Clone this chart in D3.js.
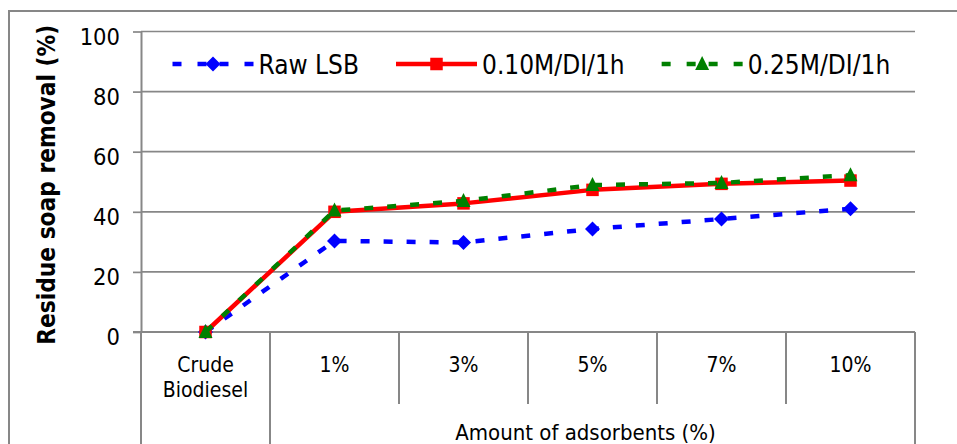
<!DOCTYPE html>
<html>
<head>
<meta charset="utf-8">
<script src="https://cdn.jsdelivr.net/npm/d3@7/dist/d3.min.js"></script>
<style>
  html, body { margin: 0; padding: 0; background: #fff; }
  svg { display: block; }
  text { font-family: "DejaVu Sans Condensed", "DejaVu Sans", sans-serif; font-stretch: condensed; fill: #000; }
</style>
</head>
<body>
<svg id="chart" width="957" height="444"></svg>
<script>
// Category axis: first category stands alone, the rest share a group label
const categories = ["Crude Biodiesel", "1%", "3%", "5%", "7%", "10%"];
const categoryLines = [["Crude", "Biodiesel"], ["1%"], ["3%"], ["5%"], ["7%"], ["10%"]];
const groupLabel = "Amount of adsorbents (%)";
const groupMembers = ["1%", "3%", "5%", "7%", "10%"];

// Residue soap removal (%) per series
const rawLSB  = [0, 30.3, 29.8, 34.3, 37.6, 41.0];
const m010DI1h = [0, 40.0, 42.8, 47.3, 49.3, 50.4];
const m025DI1h = [0, 40.4, 43.6, 48.9, 49.6, 52.2];

const seriesNames = ["Raw LSB", "0.10M/DI/1h", "0.25M/DI/1h"];
const yTicks = [0, 20, 40, 60, 80, 100];
const yTitle = "Residue soap removal (%)";

const series = [
  { name: seriesNames[0], values: rawLSB,  color: "#0000ff", dash: "9,14", marker: "diamond" },
  { name: seriesNames[1], values: m010DI1h, color: "#ff0000", dash: null,   marker: "square" },
  { name: seriesNames[2], values: m025DI1h, color: "#008000", dash: "9,14", marker: "triangle" }
];

const svg = d3.select("#chart");
const gridColor = "#878787";

// plot frame
const plotL = 141, plotR = 915, plotT = 31.5, plotB = 332;

// outer chart border (runs past the right and bottom edges)
svg.append("rect")
  .attr("x", 9).attr("y", 11)
  .attr("width", 1000).attr("height", 500)
  .attr("fill", "#fff")
  .attr("stroke", gridColor).attr("stroke-width", 2);

const x = d3.scaleBand().domain(categories).range([plotL, plotR]).padding(0);
const y = d3.scaleLinear().domain([0, 100]).range([plotB, plotT]);

// horizontal gridlines
svg.append("g").selectAll("line").data(yTicks).join("line")
  .attr("x1", plotL).attr("x2", plotR)
  .attr("y1", d => y(d)).attr("y2", d => y(d))
  .attr("stroke", gridColor).attr("stroke-width", 1.7);

// value axis
const yAxis = svg.append("g")
  .attr("transform", `translate(${plotL},0)`)
  .call(d3.axisLeft(y).tickValues(yTicks).tickSize(8).tickPadding(13).tickSizeOuter(0));
yAxis.select(".domain").attr("stroke", gridColor).attr("stroke-width", 2);
yAxis.selectAll(".tick line").attr("stroke", gridColor).attr("stroke-width", 1.7);
yAxis.selectAll(".tick text")
  .attr("font-size", 23.5)
  .attr("dy", "0.55em")
  .attr("fill", "#000")
  .style("font-family", "\"DejaVu Sans Condensed\", \"DejaVu Sans\", sans-serif");

// value axis title
svg.append("text")
  .attr("transform", `translate(55,${(plotT + plotB) / 2 + 3}) rotate(-90)`)
  .attr("text-anchor", "middle")
  .attr("font-size", 25)
  .attr("font-weight", "bold")
  .attr("textLength", 320)
  .attr("lengthAdjust", "spacingAndGlyphs")
  .text(yTitle);

// multi-level category axis
const cat = svg.append("g");
const bottomEdge = 470;
const innerTickEnd = 404;
// outer boundaries: chart left, group start, chart right run to the bottom
const fullLines = [x.range()[0], x(groupMembers[0]), x.range()[1]];
cat.selectAll("line.full").data(fullLines).join("line")
  .attr("class", "full")
  .attr("x1", d => d).attr("x2", d => d)
  .attr("y1", plotB).attr("y2", bottomEdge)
  .attr("stroke", gridColor).attr("stroke-width", 2);
// dividers between grouped categories
cat.selectAll("line.inner").data(groupMembers.slice(1)).join("line")
  .attr("class", "inner")
  .attr("x1", d => x(d)).attr("x2", d => x(d))
  .attr("y1", plotB).attr("y2", innerTickEnd)
  .attr("stroke", gridColor).attr("stroke-width", 2);
// category axis line with outer tick to the left
cat.append("line")
  .attr("x1", plotL - 8).attr("x2", plotR)
  .attr("y1", plotB).attr("y2", plotB)
  .attr("stroke", gridColor).attr("stroke-width", 2);

categories.forEach((c, i) => {
  const t = cat.append("text")
    .attr("x", x(c) + x.bandwidth() / 2)
    .attr("y", 372)
    .attr("text-anchor", "middle")
    .attr("font-size", 21);
  categoryLines[i].forEach((ln, j) => {
    t.append("tspan").attr("x", x(c) + x.bandwidth() / 2).attr("dy", j === 0 ? 0 : 25).text(ln);
  });
});

const gStart = x(groupMembers[0]);
const gEnd = x(groupMembers[groupMembers.length - 1]) + x.bandwidth();
cat.append("text")
  .attr("x", (gStart + gEnd) / 2 - 7)
  .attr("y", 440)
  .attr("text-anchor", "middle")
  .attr("font-size", 22)
  .text(groupLabel);

// marker shapes
function drawMarker(g, type, cx, cy, color) {
  if (type === "diamond") {
    const r = 7.5;
    g.append("path")
      .attr("d", `M${cx},${cy - r}L${cx + r},${cy}L${cx},${cy + r}L${cx - r},${cy}Z`)
      .attr("fill", color);
  } else if (type === "square") {
    const s = 12.5;
    g.append("rect").attr("x", cx - s / 2).attr("y", cy - s / 2)
      .attr("width", s).attr("height", s).attr("fill", color);
  } else {
    const w = 14, h = 14;
    g.append("path")
      .attr("d", `M${cx},${cy - h / 2 - 1}L${cx + w / 2},${cy + h / 2 - 1}L${cx - w / 2},${cy + h / 2 - 1}Z`)
      .attr("fill", color);
  }
}

// series lines and markers
const line = d3.line()
  .x((d, i) => x(categories[i]) + x.bandwidth() / 2)
  .y(d => y(d));

series.forEach(s => {
  const g = svg.append("g");
  g.append("path")
    .attr("d", line(s.values))
    .attr("fill", "none")
    .attr("stroke", s.color)
    .attr("stroke-width", 4.5)
    .attr("stroke-dasharray", s.dash)
    .attr("stroke-linejoin", "round");
  s.values.forEach((v, i) => {
    drawMarker(g, s.marker, x(categories[i]) + x.bandwidth() / 2, y(v), s.color);
  });
});

// legend
const legend = svg.append("g");
const legendY = 64;
const sampleLen = 81, textGap = 5, itemGap = 37;
let lx = 172.5;
series.forEach(s => {
  const g = legend.append("g");
  const mid = lx + sampleLen / 2;
  if (s.dash) {
    // two halves, dashed outward from the marker
    g.append("line").attr("x1", lx).attr("x2", mid).attr("y1", legendY).attr("y2", legendY)
      .attr("stroke", s.color).attr("stroke-width", 4.5).attr("stroke-dasharray", "9,16");
    g.append("line").attr("x1", lx + sampleLen).attr("x2", mid).attr("y1", legendY).attr("y2", legendY)
      .attr("stroke", s.color).attr("stroke-width", 4.5).attr("stroke-dasharray", "9,16");
  } else {
    g.append("line").attr("x1", lx).attr("x2", lx + sampleLen).attr("y1", legendY).attr("y2", legendY)
      .attr("stroke", s.color).attr("stroke-width", 4.5);
  }
  drawMarker(g, s.marker, mid, legendY, s.color);
  const t = g.append("text")
    .attr("x", lx + sampleLen + textGap)
    .attr("y", legendY + 10)
    .attr("font-size", 26)
    .text(s.name);
  lx += sampleLen + textGap + t.node().getComputedTextLength() + itemGap;
});
</script>
</body>
</html>
